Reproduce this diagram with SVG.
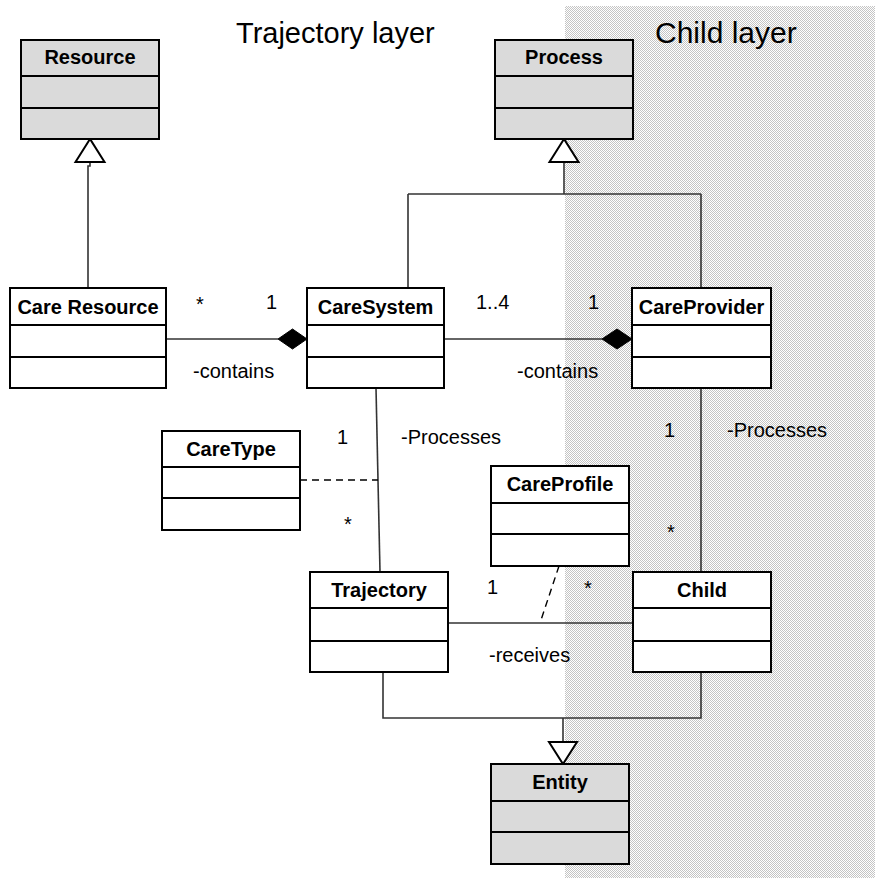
<svg xmlns="http://www.w3.org/2000/svg" width="875" height="878" viewBox="0 0 875 878">
  <defs>
    <!-- fine dot screen for the child layer band -->
    <pattern id="dots" patternUnits="userSpaceOnUse" width="2" height="2">
      <rect x="0" y="0" width="2" height="2" fill="#ffffff"/>
      <rect x="0" y="0" width="1" height="1" fill="#c4c4c4"/>
      <rect x="1" y="1" width="1" height="1" fill="#c4c4c4"/>
    </pattern>
    <style>
      .box { fill: #ffffff; stroke: #000000; stroke-width: 2; }
      .abstract { fill: #dadada; }
      .div { stroke: #000000; stroke-width: 2; }
      .name { font-family: "Liberation Sans", Arial, sans-serif; font-size: 20px; font-weight: bold; text-anchor: middle; fill: #000000; }
      .lbl { font-family: "Liberation Sans", Arial, sans-serif; font-size: 20px; fill: #000000; }
      .title { font-family: "Liberation Sans", Arial, sans-serif; font-size: 29px; fill: #000000; }
      .line { fill: none; stroke: #333333; stroke-width: 1.6; }
      .dash { fill: none; stroke: #000000; stroke-width: 1.4; stroke-dasharray: 7 5; }
      .diamond { fill: #000000; stroke: #000000; stroke-width: 1; }
      .tri { fill: #ffffff; stroke: #000000; stroke-width: 2; }
    </style>
  </defs>

  <rect width="875" height="878" fill="#ffffff"/>
  <!-- layer band -->
  <rect x="565" y="6" width="310" height="872" fill="url(#dots)" shape-rendering="crispEdges"/>

  <text class="title" x="236" y="43">Trajectory layer</text>
  <text class="title" x="655" y="43" style="font-size:30px">Child layer</text>

  <!-- connectors -->
  <g id="connectors">
    <!-- Resource generalization -->
    <path class="line" d="M90 162 V166 H88 V288"/>
    <polygon class="tri" points="90,139 75.5,162 104.5,162"/>
    <!-- Process generalization -->
    <path class="line" d="M564 162 V194 M408 194 H701 M408 194 V288 M701 194 V288"/>
    <polygon class="tri" points="564,139 549.5,162 578.5,162"/>
    <!-- Entity generalization -->
    <path class="line" d="M383 672 V718 H701 V672 M563 718 V742"/>
    <polygon class="tri" points="563,764 549,742 577,742"/>
    <!-- composition: Care Resource to CareSystem -->
    <path class="line" d="M166 339 H278"/>
    <polygon class="diamond" points="278,339 292.5,329 307,339 292.5,349"/>
    <!-- composition: CareSystem to CareProvider -->
    <path class="line" d="M444 339 H602"/>
    <polygon class="diamond" points="602,339 617,329 632,339 617,349"/>
    <!-- CareSystem processes Trajectory -->
    <path class="line" d="M376 388 L380 572"/>
    <path class="dash" d="M300 480 H378"/>
    <!-- CareProvider processes Child -->
    <path class="line" d="M701 388 V572"/>
    <!-- Trajectory received by Child -->
    <path class="line" d="M448 623 H633"/>
    <path class="dash" d="M559 566 L540 623"/>

    <!-- multiplicities and roles -->
    <text class="lbl" x="196" y="311">*</text>
    <text class="lbl" x="266" y="309">1</text>
    <text class="lbl" x="193" y="378">-contains</text>
    <text class="lbl" x="476" y="309">1..4</text>
    <text class="lbl" x="588" y="309">1</text>
    <text class="lbl" x="517" y="378">-contains</text>
    <text class="lbl" x="337" y="444">1</text>
    <text class="lbl" x="401" y="444">-Processes</text>
    <text class="lbl" x="344" y="531">*</text>
    <text class="lbl" x="664" y="437">1</text>
    <text class="lbl" x="727" y="437">-Processes</text>
    <text class="lbl" x="667" y="539">*</text>
    <text class="lbl" x="487" y="594">1</text>
    <text class="lbl" x="584" y="595">*</text>
    <text class="lbl" x="489" y="662">-receives</text>
  </g>

  <!-- classes -->
  <g id="Resource">
    <rect class="box abstract" x="21" y="40" width="138" height="99"/>
    <path class="div" d="M21 76 H159 M21 108 H159"/>
    <text class="name" x="90" y="64">Resource</text>
  </g>
  <g id="Process">
    <rect class="box abstract" x="495" y="40" width="138" height="99"/>
    <path class="div" d="M495 76 H633 M495 108 H633"/>
    <text class="name" x="564" y="64">Process</text>
  </g>
  <g id="CareResource">
    <rect class="box" x="10" y="288" width="156" height="100"/>
    <path class="div" d="M10 325 H166 M10 357 H166"/>
    <text class="name" x="88" y="314">Care Resource</text>
  </g>
  <g id="CareSystem">
    <rect class="box" x="307" y="288" width="137" height="100"/>
    <path class="div" d="M307 325 H444 M307 357 H444"/>
    <text class="name" x="375.5" y="314">CareSystem</text>
  </g>
  <g id="CareProvider">
    <rect class="box" x="632" y="288" width="139" height="100"/>
    <path class="div" d="M632 325 H771 M632 357 H771"/>
    <text class="name" x="701.5" y="314">CareProvider</text>
  </g>
  <g id="CareType">
    <rect class="box" x="162" y="431" width="138" height="99"/>
    <path class="div" d="M162 467 H300 M162 498 H300"/>
    <text class="name" x="231" y="456">CareType</text>
  </g>
  <g id="CareProfile">
    <rect class="box" x="491" y="466" width="138" height="100"/>
    <path class="div" d="M491 503 H629 M491 534 H629"/>
    <text class="name" x="560" y="491">CareProfile</text>
  </g>
  <g id="Trajectory">
    <rect class="box" x="310" y="572" width="138" height="100"/>
    <path class="div" d="M310 608 H448 M310 641 H448"/>
    <text class="name" x="379" y="597">Trajectory</text>
  </g>
  <g id="Child">
    <rect class="box" x="633" y="572" width="138" height="100"/>
    <path class="div" d="M633 608 H771 M633 641 H771"/>
    <text class="name" x="702" y="597">Child</text>
  </g>
  <g id="Entity">
    <rect class="box abstract" x="491" y="764" width="138" height="100"/>
    <path class="div" d="M491 801 H629 M491 832 H629"/>
    <text class="name" x="560" y="789">Entity</text>
  </g>
</svg>
